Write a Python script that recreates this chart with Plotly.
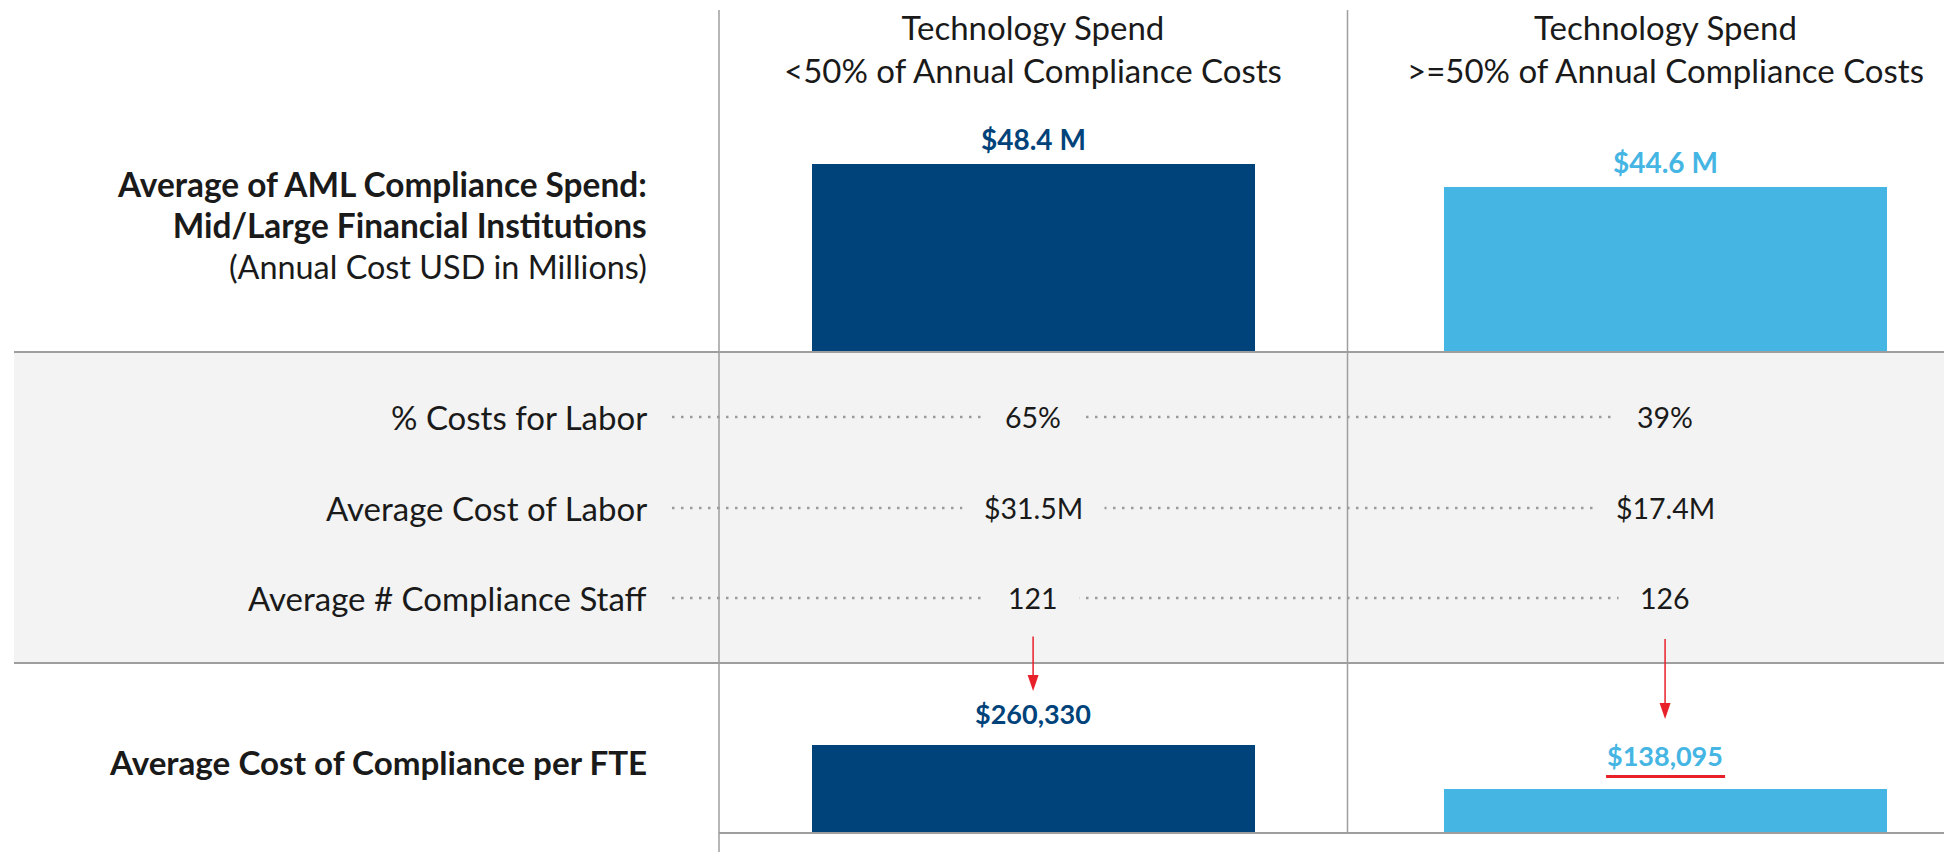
import plotly.graph_objects as go

# ---------------- data ----------------
groups = ["<50%", ">=50%"]
header_line1 = ["Technology Spend", "Technology Spend"]
header_line2 = ["&lt;50% of Annual Compliance Costs", "&gt;=50% of Annual Compliance Costs"]
aml_spend_m = [48.4, 44.6]
pct_cost_labor = [65, 39]
avg_cost_labor_m = [31.5, 17.4]
avg_staff = [121, 126]
cost_per_fte = [260330, 138095]
row_labels = ["% Costs for Labor", "Average Cost of Labor", "Average # Compliance Staff"]
bar_colors = ["#00437A", "#45B5E3"]

# ---------------- layout constants ----------------
OFF = 8  # page body margin
W, H = 1944, 844
FONT = "Lato"
GRID = "#9E9E9E"
BAND = "#F2F3F2"
RED = "#E8202A"
TXT = "#1A1A1A"

def py(p):
    return 1 - (p - OFF) / H

def pxx(p):
    return (p - OFF) / W

X_DOMAIN = [pxx(719), 1.0]
X_RANGE = [-0.497, 1.454]

def data_x_to_paper(i):
    return X_DOMAIN[0] + (i - X_RANGE[0]) / (X_RANGE[1] - X_RANGE[0]) * (X_DOMAIN[1] - X_DOMAIN[0])

fig = go.Figure()

fig.add_trace(go.Bar(x=groups, y=aml_spend_m, marker=dict(color=bar_colors, line=dict(width=0)),
                     width=0.701, xaxis="x", yaxis="y", hoverinfo="skip"))
fig.add_trace(go.Bar(x=groups, y=cost_per_fte, marker=dict(color=bar_colors, line=dict(width=0)),
                     width=0.701, xaxis="x2", yaxis="y2", hoverinfo="skip"))

shapes = []
# gray band
shapes.append(dict(type="rect", xref="paper", yref="paper", x0=pxx(14), x1=1, y0=py(663), y1=py(352),
                   fillcolor=BAND, line=dict(width=0), layer="below"))
# horizontal rules
for yy, x0 in [(352, 14), (663, 14), (833, 719)]:
    shapes.append(dict(type="line", xref="paper", yref="paper", x0=pxx(x0), x1=1, y0=py(yy), y1=py(yy),
                       line=dict(color=GRID, width=2), layer="above"))
# vertical dividers
shapes.append(dict(type="line", xref="paper", yref="paper", x0=pxx(719), x1=pxx(719), y0=py(10), y1=0,
                   line=dict(color=GRID, width=1.5), layer="above"))
shapes.append(dict(type="line", xref="paper", yref="paper", x0=pxx(1347.5), x1=pxx(1347.5), y0=py(10), y1=py(833),
                   line=dict(color=GRID, width=1.5), layer="above"))

row_y = [417, 508, 598]
# dotted leader lines
for yy in row_y:
    shapes.append(dict(type="line", xref="paper", yref="paper", x0=pxx(672), x1=data_x_to_paper(1),
                       y0=py(yy), y1=py(yy), line=dict(color="#9A9A9A", width=2.5, dash="2.5px,6.5px"),
                       layer="above"))

# red arrows
arrows = [(0, 636, 691), (1, 639, 719)]
for i, y0, y1 in arrows:
    xc = data_x_to_paper(i)
    shapes.append(dict(type="line", xref="paper", yref="paper", x0=xc, x1=xc, y0=py(y0), y1=py(y1 - 12),
                       line=dict(color=RED, width=1.5), layer="above"))
    hw = 5.5 / W
    shapes.append(dict(type="path", xref="paper", yref="paper",
                       path=f"M {xc - hw},{py(y1 - 16)} L {xc + hw},{py(y1 - 16)} L {xc},{py(y1)} Z",
                       fillcolor=RED, line=dict(width=0), layer="above"))
# red underline
xc2 = data_x_to_paper(1)
shapes.append(dict(type="line", xref="paper", yref="paper", x0=xc2 - 59 / W, x1=xc2 + 60 / W,
                   y0=py(776.5), y1=py(776.5), line=dict(color=RED, width=3), layer="above"))

annotations = []
# headers
for i, g in enumerate(groups):
    annotations.append(dict(xref="x", yref="paper", x=g, y=py(49), yanchor="middle", xanchor="center",
                            text=f"{header_line1[i]}<br>{header_line2[i]}", showarrow=False,
                            font=dict(family=FONT, size=33, color=TXT)))
# left labels
annotations.append(dict(xref="paper", yref="paper", x=pxx(649), y=py(225), xanchor="right", yanchor="middle",
                        align="right", showarrow=False,
                        text="<span style='font-size:33.4px'><b>Average of AML Compliance Spend:</b></span><br>"
                             "<span style='font-size:33.4px'><b>Mid/Large Financial Institutions</b></span><br>"
                             "<span style='font-size:32.4px'>(Annual Cost USD in Millions)</span>",
                        font=dict(family=FONT, size=31.5, color=TXT)))
annotations.append(dict(xref="paper", yref="paper", x=pxx(649), y=py(762), xanchor="right", yanchor="middle",
                        align="right", showarrow=False,
                        text="<b>Average Cost of Compliance per FTE</b>",
                        font=dict(family=FONT, size=33.2, color=TXT)))
# bar value labels
for i, g in enumerate(groups):
    annotations.append(dict(xref="x", yref="y", x=g, y=aml_spend_m[i], yanchor="middle", yshift=25,
                            text=f"<b>${aml_spend_m[i]} M</b>", showarrow=False,
                            font=dict(family=FONT, size=28, color=bar_colors[i])))
    annotations.append(dict(xref="x2", yref="y2", x=g, y=cost_per_fte[i], yanchor="middle",
                            yshift=32 if i == 0 else 34,
                            text=f"<b>${cost_per_fte[i]:,}</b>", showarrow=False,
                            font=dict(family=FONT, size=27, color=bar_colors[i])))
# row labels and values
row_values = [
    [f"{v}%" for v in pct_cost_labor],
    [f"${v}M" for v in avg_cost_labor_m],
    [f"{v}" for v in avg_staff],
]
for r, lab in enumerate(row_labels):
    annotations.append(dict(xref="paper", yref="paper", x=pxx(649), y=py(row_y[r]), xanchor="right",
                            yanchor="middle", text=lab, showarrow=False,
                            font=dict(family=FONT, size=33, color=TXT)))
    for i, g in enumerate(groups):
        annotations.append(dict(xref="x", yref="paper", x=g, y=py(row_y[r]), xanchor="center",
                                yanchor="middle", text=row_values[r][i], showarrow=False,
                                bgcolor=BAND, borderpad=21,
                                font=dict(family=FONT, size=28.5, color=TXT)))

axis_common = dict(showgrid=False, zeroline=False, showticklabels=False, showline=False, ticks="")
fig.update_layout(
    width=W, height=H, margin=dict(l=0, r=0, t=0, b=0),
    paper_bgcolor="white", plot_bgcolor="rgba(0,0,0,0)",
    showlegend=False, bargap=0,
    xaxis=dict(domain=X_DOMAIN, range=X_RANGE, type="category", anchor="y", **axis_common),
    yaxis=dict(domain=[py(352), py(100)], range=[17.34, 58.97], anchor="x", **axis_common),
    xaxis2=dict(domain=X_DOMAIN, range=X_RANGE, type="category", anchor="y2", **axis_common),
    yaxis2=dict(domain=[py(833), py(680)], range=[16000, 440810], anchor="x2", **axis_common),
    shapes=shapes, annotations=annotations,
)

fig.write_html("out.html")
